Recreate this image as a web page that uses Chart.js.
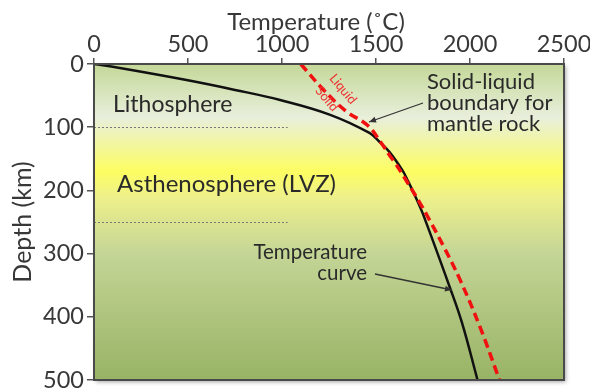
<!DOCTYPE html>
<html>
<head>
<meta charset="utf-8">
<script src="https://cdn.jsdelivr.net/npm/chart.js@4/dist/chart.umd.min.js"></script>
<style>
html,body{margin:0;padding:0;background:#fff;}
#wrap{width:590px;height:390px;position:relative;}
</style>
</head>
<body>
<div id="wrap"><canvas id="c" width="590" height="390"></canvas></div>
<script>
// Temperature curve (geotherm)
const geoDepth = [0, 6, 25, 41, 57, 80, 109, 123, 139, 168, 185, 212, 236, 352, 410, 500];
const geoTemp  = [0, 130, 485, 750, 990, 1253, 1465, 1518, 1571, 1640, 1670, 1713, 1748, 1891, 1958, 2040];
// Solid-liquid boundary (solidus) for mantle rock
const solDepth = [0, 40, 75, 97, 125, 144, 157, 184, 218, 247, 290, 342, 416, 500];
const solTemp  = [1100, 1218, 1342, 1455, 1528, 1571, 1603, 1660, 1730, 1785, 1862, 1948, 2053, 2157];
// Axis ticks
const tempTicks = [0, 500, 1000, 1500, 2000, 2500];
const depthTicks = [0, 100, 200, 300, 400, 500];
// Layer boundaries (depth) and their extent (temperature)
const layerDepths = [100, 250];
const layerLineEnd = 1030;

const FONT = 'Lato';
const TXT = '#383838';

const pts = (xs, ys) => xs.map((x, i) => ({x: x, y: ys[i]}));

const bgPlugin = {
  id: 'bg',
  beforeDraw(chart) {
    const {ctx, chartArea: a} = chart;
    const g = ctx.createLinearGradient(0, a.top, 0, a.bottom);
    g.addColorStop(0.00, '#c4d898');
    g.addColorStop(0.17, '#e8efdb');
    g.addColorStop(0.34, '#fdfd62');
    g.addColorStop(0.42, '#eef08a');
    g.addColorStop(0.60, '#c4d596');
    g.addColorStop(1.00, '#98b365');
    ctx.save();
    ctx.shadowColor = 'rgba(0,0,0,0.35)';
    ctx.shadowBlur = 4;
    ctx.shadowOffsetX = 2;
    ctx.shadowOffsetY = 2;
    ctx.fillStyle = g;
    ctx.fillRect(a.left, a.top, a.right - a.left, a.bottom - a.top);
    ctx.restore();
    // x axis title
    ctx.save();
    ctx.fillStyle = TXT;
    ctx.font = '24px ' + FONT;
    ctx.textAlign = 'center';
    ctx.textBaseline = 'middle';
    ctx.fillText('Temperature (˚C)', 316, 22);
    ctx.restore();
    // dotted layer lines
    const xs = chart.scales.x, ys = chart.scales.y;
    ctx.save();
    ctx.strokeStyle = '#777';
    ctx.lineWidth = 1;
    ctx.setLineDash([2, 2]);
    layerDepths.forEach(d => {
      const y = Math.round(ys.getPixelForValue(d)) + 0.5;
      ctx.beginPath();
      ctx.moveTo(a.left, y);
      ctx.lineTo(xs.getPixelForValue(layerLineEnd), y);
      ctx.stroke();
    });
    ctx.restore();
    // labels
    ctx.save();
    ctx.fillStyle = '#2a2a2a';
    ctx.textBaseline = 'middle';
    ctx.textAlign = 'left';
    ctx.font = '23px ' + FONT;
    ctx.fillText('Lithosphere', 113, 105);
    ctx.font = '24px ' + FONT;
    ctx.fillText('Asthenosphere (LVZ)', 117, 184);
    ctx.restore();
  },
  afterDatasetsDraw(chart) {
    const {ctx, chartArea: a} = chart;
    ctx.save();
    ctx.strokeStyle = '#4a4a4a';
    ctx.lineWidth = 2;
    ctx.strokeRect(a.left, a.top, a.right - a.left, a.bottom - a.top);
    // annotations
    ctx.fillStyle = '#2a2a2a';
    ctx.textBaseline = 'middle';
    ctx.font = '22px ' + FONT;
    ctx.textAlign = 'left';
    ctx.fillText('Solid-liquid', 427, 82);
    ctx.fillText('boundary for', 427, 103);
    ctx.fillText('mantle rock', 427, 124);
    ctx.textAlign = 'right';
    ctx.font = '20.5px ' + FONT;
    ctx.fillText('Temperature', 367, 252);
    ctx.fillText('curve', 367, 273);
    // arrows
    const arrow = (x1, y1, x2, y2) => {
      ctx.strokeStyle = '#333';
      ctx.fillStyle = '#333';
      ctx.lineWidth = 1.3;
      ctx.beginPath();
      ctx.moveTo(x1, y1);
      ctx.lineTo(x2, y2);
      ctx.stroke();
      const ang = Math.atan2(y2 - y1, x2 - x1);
      const L = 7, W = 3;
      ctx.beginPath();
      ctx.moveTo(x2, y2);
      ctx.lineTo(x2 - L * Math.cos(ang) + W * Math.sin(ang), y2 - L * Math.sin(ang) - W * Math.cos(ang));
      ctx.lineTo(x2 - L * Math.cos(ang) - W * Math.sin(ang), y2 - L * Math.sin(ang) + W * Math.cos(ang));
      ctx.closePath();
      ctx.fill();
    };
    arrow(423, 103, 369, 122);
    arrow(375, 274, 452, 290);
    // Liquid / Solid red labels
    ctx.fillStyle = '#ee3333';
    ctx.font = '13px ' + FONT;
    ctx.textAlign = 'center';
    ctx.save();
    ctx.translate(343, 89);
    ctx.rotate(50 * Math.PI / 180);
    ctx.fillText('Liquid', 0, 0);
    ctx.restore();
    ctx.save();
    ctx.translate(327, 99);
    ctx.rotate(50 * Math.PI / 180);
    ctx.fillText('Solid', 0, 0);
    ctx.restore();
    ctx.restore();
  }
};

new Chart(document.getElementById('c'), {
  type: 'scatter',
  data: {
    datasets: [
      {
        label: 'Temperature curve',
        data: pts(geoTemp, geoDepth),
        showLine: true,
        borderColor: '#111111',
        borderWidth: 2.5,
        pointRadius: 0,
        tension: 0.4,
        order: 2
      },
      {
        label: 'Solid-liquid boundary',
        data: pts(solTemp, solDepth),
        showLine: true,
        borderColor: '#f01010',
        borderWidth: 3.5,
        borderDash: [9, 5],
        pointRadius: 0,
        tension: 0.4,
        order: 1
      }
    ]
  },
  options: {
    responsive: false,
    animation: false,
    devicePixelRatio: 1,
    layout: {padding: {left: 0, right: 26, top: 0, bottom: 10}},
    plugins: {legend: {display: false}, tooltip: {enabled: false}},
    scales: {
      x: {
        type: 'linear',
        position: 'top',
        min: 0, max: 2500,
        afterBuildTicks: s => { s.ticks = tempTicks.map(v => ({value: v})); },
        afterFit: s => { s.height = 64; s.paddingLeft = 0; s.paddingRight = 0; },
        ticks: {color: TXT, font: {family: FONT, size: 23.5, lineHeight: 1}, padding: 2, maxRotation: 0,
                callback: v => String(v)},
        grid: {drawOnChartArea: false, tickLength: 6, color: '#555', lineWidth: 1.5},
        border: {display: false},
        title: {display: false}
      },
      y: {
        type: 'linear',
        reverse: true,
        min: 0, max: 500,
        afterBuildTicks: s => { s.ticks = depthTicks.map(v => ({value: v})); },
        afterFit: s => { s.width = 94; s.paddingTop = 0; s.paddingBottom = 0; },
        ticks: {color: TXT, font: {family: FONT, size: 23.5, lineHeight: 1}, padding: 3,
                callback: v => String(v)},
        grid: {drawOnChartArea: false, tickLength: 7, color: '#555', lineWidth: 1.5},
        border: {display: false},
        title: {display: true, text: 'Depth (km)', color: TXT, font: {family: FONT, size: 25, lineHeight: 1}, padding: {top: 10, bottom: 0}}
      }
    }
  },
  plugins: [bgPlugin]
});
</script>
</body>
</html>
